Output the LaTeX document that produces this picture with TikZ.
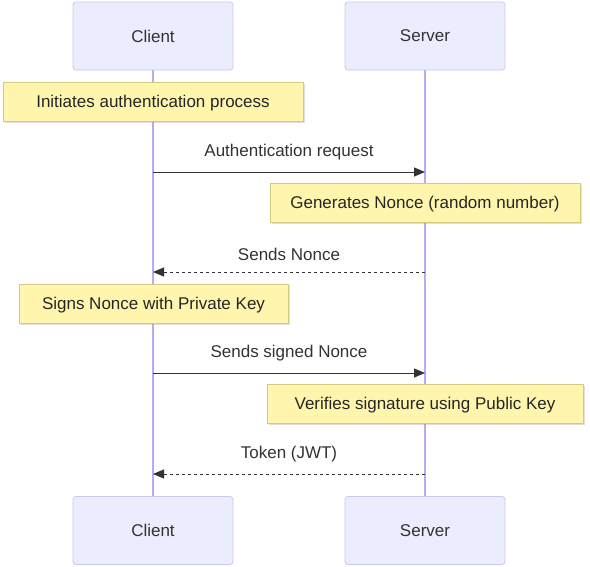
\documentclass[tikz,border=0pt]{standalone}
\usepackage{fontspec}
\setmainfont{Liberation Sans}
\usetikzlibrary{arrows.meta,shadows}
\definecolor{actfill}{HTML}{ECECFF}
\definecolor{actdraw}{HTML}{C8C8F0}
\definecolor{lifeline}{HTML}{B8ACF0}
\definecolor{notefill}{HTML}{FFF5AD}
\definecolor{notedraw}{HTML}{D2CC80}
\definecolor{txt}{HTML}{333333}
\tikzset{
  actor/.style={draw=actdraw, fill=actfill, rounded corners=3pt, minimum width=160pt, minimum height=68pt, font=\fontsize{17}{20}\selectfont, text=txt, line width=0.8pt},
  note/.style={draw=notedraw, fill=notefill, minimum height=39pt, text height=12pt, text depth=0.5pt, font=\fontsize{17}{20}\selectfont, text=black!85, line width=0.8pt, drop shadow={opacity=0.25, shadow xshift=1.5pt, shadow yshift=-1.5pt}},
  msg/.style={draw=txt, line width=1pt, -{Triangle[length=11pt,width=9pt]}},
  reply/.style={msg, dashed, dash pattern=on 3pt off 3pt},
  lbl/.style={font=\fontsize{17}{20}\selectfont, text=txt},
  life/.style={draw=lifeline, line width=1.4pt}
}
\begin{document}
\begin{tikzpicture}[x=1pt,y=-1pt]
\useasboundingbox (0,0) rectangle (590,566);
\fill[white] (0,0) rectangle (590,566);
% actors
\node[actor] (ct) at (153,36) {Client};
\node[actor] (st) at (425,36) {Server};
\node[actor] (cb) at (153,530.5) {Client};
\node[actor] (sb) at (425,530.5) {Server};
\draw[life] (ct.south) -- (cb.north);
\draw[life] (st.south) -- (sb.north);
% notes
\node[note, minimum width=300pt] (n1) at (153,102) {Initiates authentication process};
\node[note, minimum width=310pt] (n2) at (425,202.5) {Generates Nonce (random number)};
\node[note, minimum width=269pt] (n3) at (153.5,303.5) {Signs Nonce with Private Key};
\node[note, minimum width=316pt] (n4) at (425,404) {Verifies signature using Public Key};
% message anchors
\coordinate (c1) at (153,172); \coordinate (s1) at (425,172);
\coordinate (c2) at (153,272); \coordinate (s2) at (425,272);
\coordinate (c3) at (153,373); \coordinate (s3) at (425,373);
\coordinate (c4) at (153,474); \coordinate (s4) at (425,474);
\draw[msg] (c1) -- (s1) node[lbl, midway, above=8pt] (l1) {Authentication request};
\draw[reply] (s2) -- (c2) node[lbl, midway, above=8pt] (l2) {Sends Nonce};
\draw[msg] (c3) -- (s3) node[lbl, midway, above=8pt] (l3) {Sends signed Nonce};
\draw[reply] (s4) -- (c4) node[lbl, midway, above=8pt] (l4) {Token (JWT)};
\end{tikzpicture}
\end{document}
